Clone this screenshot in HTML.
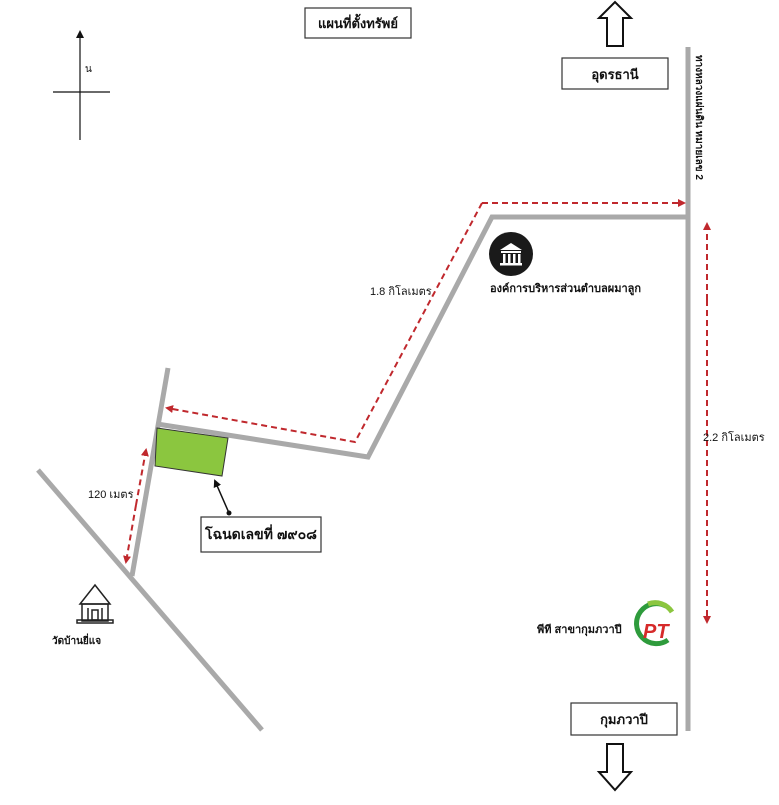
<!DOCTYPE html>
<html><head><meta charset="utf-8"><style>
body{margin:0;background:#fff;width:779px;height:800px;overflow:hidden}
svg text{font-family:"Liberation Sans","Noto Sans CJK SC",sans-serif;fill:#111}
</style></head><body>
<svg width="779" height="800" viewBox="0 0 779 800">
<defs>
<marker id="ra" markerWidth="8" markerHeight="8" refX="6" refY="4" orient="auto" markerUnits="userSpaceOnUse"><path d="M0,0 L8,4 L0,8 z" fill="#c0282d"/></marker>
<marker id="ba" markerWidth="8" markerHeight="8" refX="6" refY="4" orient="auto" markerUnits="userSpaceOnUse"><path d="M0,0 L8,4 L0,8 z" fill="#111"/></marker>
</defs>
<g stroke="#a9a9a9" stroke-width="5" fill="none" stroke-linejoin="miter">
<line x1="688" y1="47" x2="688" y2="731"/>
<polyline points="688,217 492,217 368,457 157,424"/>
<line x1="168" y1="368" x2="132" y2="576"/>
<line x1="38" y1="470" x2="262" y2="730"/>
</g>
<g stroke="#c0282d" stroke-width="2" stroke-dasharray="6,4" fill="none">
<polyline points="482,203 355,442 167,408" marker-end="url(#ra)"/>
<line x1="482" y1="203" x2="684" y2="203" marker-end="url(#ra)"/>
<line x1="707" y1="300" x2="707" y2="224" marker-end="url(#ra)"/>
<line x1="707" y1="300" x2="707" y2="622" marker-end="url(#ra)"/>
<line x1="136" y1="505" x2="146" y2="450" marker-end="url(#ra)"/>
<line x1="136" y1="505" x2="126" y2="562" marker-end="url(#ra)"/>
</g>
<polygon points="157,428 228,438 222,476 155,466" fill="#8bc63f" stroke="#333" stroke-width="1"/>
<line x1="229" y1="513" x2="215" y2="481" stroke="#111" stroke-width="1.5" marker-end="url(#ba)"/>
<circle cx="229" cy="513" r="2.5" fill="#111"/>
<g fill="#fff" stroke="#333" stroke-width="1.2">
<rect x="305" y="8" width="106" height="30"/>
<rect x="562" y="58" width="106" height="31"/>
<rect x="571" y="703" width="106" height="32"/>
<rect x="201" y="517" width="120" height="35"/>
</g>
<text x="358" y="28" font-size="13" text-anchor="middle" font-weight="bold">แผนที่ตั้งทรัพย์</text>
<text x="615" y="79" font-size="13" text-anchor="middle" font-weight="bold">อุดรธานี</text>
<text x="624" y="724" font-size="13" text-anchor="middle" font-weight="bold">กุมภวาปี</text>
<text x="261" y="539" font-size="14" text-anchor="middle" font-weight="bold">โฉนดเลขที่ ๗๙๐๘</text>
<path d="M607,46 L607,18 L599,18 L615,2 L631,18 L623,18 L623,46 Z" fill="#fff" stroke="#111" stroke-width="2"/>
<path d="M607,744 L607,772 L599,772 L615,790 L631,772 L623,772 L623,744 Z" fill="#fff" stroke="#111" stroke-width="2"/>
<line x1="80" y1="140" x2="80" y2="32" stroke="#111" stroke-width="1.2" marker-end="url(#ba)"/>
<line x1="53" y1="92" x2="110" y2="92" stroke="#111" stroke-width="1.2"/>
<text x="85" y="72" font-size="10">น</text>
<text transform="translate(696,55) rotate(90)" font-size="10" font-weight="bold">ทางหลวงแผ่นดิน หมายเลข 2</text>
<circle cx="511" cy="254" r="22" fill="#1a1a1a"/>
<path d="M500,250 L511,243 L522,250 Z" fill="#fff"/>
<rect x="501" y="251" width="20" height="2" fill="#fff"/>
<g fill="#fff"><rect x="503" y="254" width="2.5" height="9"/><rect x="508" y="254" width="2.5" height="9"/><rect x="513" y="254" width="2.5" height="9"/><rect x="518" y="254" width="2.5" height="9"/></g>
<rect x="500" y="263" width="22" height="2.5" fill="#fff"/>
<text x="490" y="292" font-size="11" font-weight="bold">องค์การบริหารส่วนตำบลผมาลูก</text>
<text x="370" y="295" font-size="11">1.8 กิโลเมตร</text>
<text x="703" y="441" font-size="11">2.2 กิโลเมตร</text>
<text x="88" y="498" font-size="11">120 เมตร</text>
<g fill="none" stroke="#222" stroke-width="1.5">
<path d="M95,585 L80,604 L110,604 Z"/>
<rect x="82" y="604" width="26" height="17"/>
<rect x="77" y="620" width="36" height="3"/>
<line x1="88" y1="608" x2="88" y2="620"/><line x1="102" y1="608" x2="102" y2="620"/>
<rect x="92" y="610" width="6" height="10"/>
</g>
<text x="52" y="644" font-size="10" font-weight="bold">วัดบ้านยี่แจ</text>
<path d="M666,606 A20,20 0 1 0 668,640" fill="none" stroke="#2e9b3c" stroke-width="5"/>
<path d="M648,604 A20,20 0 0 1 672,612" fill="none" stroke="#8bc63f" stroke-width="5"/>
<text x="643" y="638" font-size="20" font-weight="bold" font-style="italic" style="fill:#d62a2a">PT</text>
<text x="537" y="633" font-size="11" font-weight="bold">พีที สาขากุมภวาปี</text>
</svg>
</body></html>
